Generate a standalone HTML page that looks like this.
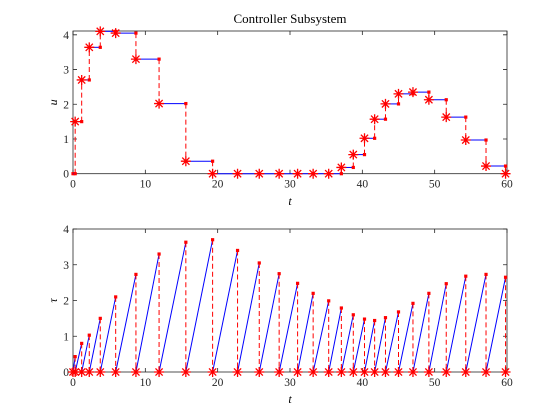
<!DOCTYPE html>
<html><head><meta charset="utf-8"><style>
body{margin:0;background:#fff;}
svg{display:block;font-family:"Liberation Serif",serif;}
</style></head><body>
<svg id="chart" width="560" height="420" viewBox="0 0 560 420" xmlns="http://www.w3.org/2000/svg">
<rect width="560" height="420" fill="#fff"/>
<text x="290" y="23" font-size="13" text-anchor="middle">Controller Subsystem</text>
<g id="top"></g>
<g id="bot"></g>
</svg>
<script>
const eventTimes=[0.3,1.2,2.25,3.77,5.9,8.7,11.9,15.6,19.3,22.75,25.75,28.5,31.05,33.2,35.35,37.1,38.75,40.3,41.7,43.2,45.0,47.0,49.2,51.6,54.3,57.1,59.8];
const uValues=[1.5,2.7,3.64,4.1,4.05,3.3,2.02,0.36,0,0,0,0,0,0,0,0.18,0.55,1.02,1.57,2.01,2.3,2.35,2.13,1.63,0.97,0.22,0];
const tauPeaks=[0.43,0.8,1.03,1.5,2.1,2.73,3.3,3.63,3.7,3.4,3.05,2.75,2.48,2.2,1.99,1.79,1.6,1.48,1.44,1.52,1.68,1.92,2.2,2.47,2.68,2.73,2.65];
const xTicks=[0,10,20,30,40,50,60];
const yTicks=[0,1,2,3,4];
const NS="http://www.w3.org/2000/svg";
const X0=73,X1=507;
const xs=t=>X0+(t/60)*(X1-X0);
function el(p,tag,a){const e=document.createElementNS(NS,tag);for(const k in a)e.setAttribute(k,a[k]);p.appendChild(e);return e;}
function star(g,x,y){
  const s=el(g,'path',{d:`M${x-5} ${y}H${x+5}M${x} ${y-5}V${y+5}M${x-3.6} ${y-3.6}L${x+3.6} ${y+3.6}M${x-3.6} ${y+3.6}L${x+3.6} ${y-3.6}`,stroke:'#f00','stroke-width':1.3,fill:'none'});
  
  
}
function dot(g,x,y){
  const d=el(g,'rect',{x:x-1.6,y:y-1.6,width:3.2,height:3.2,fill:'#f00'});
  
  
}
function axes(g,T,B,ymax,ylab,xlabY){
  const ys=v=>B-(v/ymax)*(B-T);
  el(g,'rect',{x:X0,y:T,width:X1-X0,height:B-T,fill:'none',stroke:'#262626','stroke-width':0.8});
  xTicks.forEach(v=>{const x=xs(v);
    el(g,'path',{d:`M${x} ${B}v-4M${x} ${T}v4`,stroke:'#262626','stroke-width':0.8});
    const t=el(g,'text',{x:x,y:B+14,'font-size':11.5,'text-anchor':'middle',fill:'#262626'});t.textContent=v;
    
    });
  yTicks.forEach(v=>{const y=ys(v);
    el(g,'path',{d:`M${X0} ${y}h4M${X1} ${y}h-4`,stroke:'#262626','stroke-width':0.8});
    const t=el(g,'text',{x:X0-4,y:y+4,'font-size':11.5,'text-anchor':'end',fill:'#262626'});t.textContent=v;
    
    });
  const xl=el(g,'text',{x:290,y:xlabY,'font-size':12,'font-style':'italic','text-anchor':'middle'});xl.textContent='t';
  
  
  const yl=el(g,'text',{x:0,y:0,'font-size':12,'font-style':'italic','text-anchor':'middle',transform:`translate(57 ${(T+B)/2}) rotate(-90)`});yl.textContent=ylab;
  
  
  return ys;
}
const gt=document.getElementById('top');
const yt=axes(gt,31,173.7,4.11,'u',205);
let prevT=0,prevU=0;
dot(gt,xs(0),yt(0));
eventTimes.forEach((t,i)=>{
  const u=uValues[i];
  el(gt,'line',{x1:xs(prevT),y1:yt(prevU),x2:xs(t),y2:yt(prevU),stroke:'#00f','stroke-width':1});
  dot(gt,xs(t),yt(prevU));
  el(gt,'line',{x1:xs(t),y1:yt(prevU),x2:xs(t),y2:yt(u),stroke:'#f00','stroke-width':1,'stroke-dasharray':'5,3'});
  prevT=t;prevU=u;
});
eventTimes.forEach((t,i)=>star(gt,xs(t),yt(uValues[i])));
const gb=document.getElementById('bot');
const yb=axes(gb,229,372,4,'τ',403);
prevT=0;
eventTimes.forEach((t,i)=>{
  const p=tauPeaks[i];
  el(gb,'line',{x1:xs(prevT),y1:yb(0),x2:xs(t),y2:yb(p),stroke:'#00f','stroke-width':1});
  el(gb,'line',{x1:xs(t),y1:yb(p),x2:xs(t),y2:yb(0),stroke:'#f00','stroke-width':1,'stroke-dasharray':'5,3'});
  dot(gb,xs(t),yb(p));
  prevT=t;
});
star(gb,xs(0),yb(0));
eventTimes.forEach(t=>star(gb,xs(t),yb(0)));
</script>
</body></html>
